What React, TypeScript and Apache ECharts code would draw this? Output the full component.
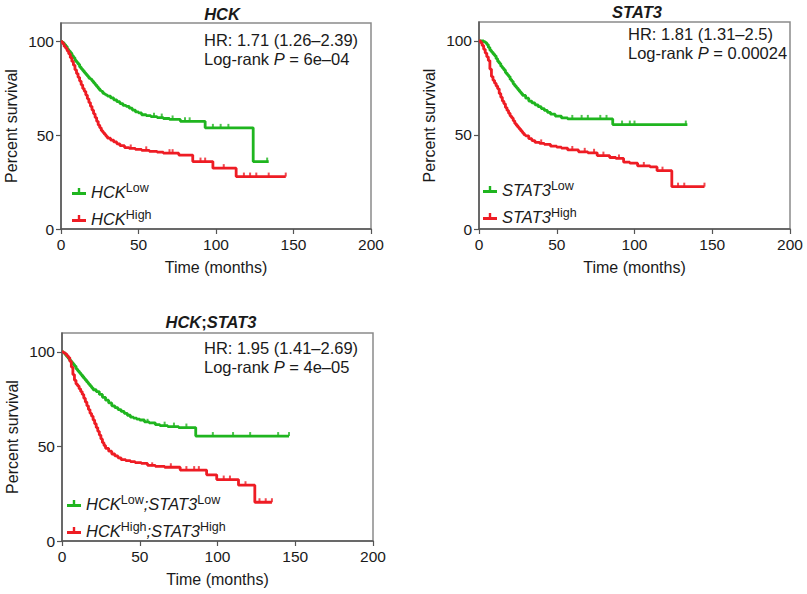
import React, { useEffect, useRef } from "react";
import * as echarts from "echarts";

// ---- Data (time in months, percent survival) ----
const hckLow: number[][] = [[0,100],[1,99.5],[2,98.5],[3,97.5],[4,96],[5,95],[6,94],[7,92.5],[8,91.5],[9,90],[10,89],[11,88],[12,86.5],[13,85.5],[14,84.5],[15,83.5],[16,82.5],[17,81.5],[18,80.5],[19,80],[20,79],[21,78],[22,77],[23,76],[24,75],[25,74],[26,73.5],[27,72.5],[28,72],[29,71.5],[30,71],[32,70],[34,69],[36,68],[38,67],[40,66],[42,65.5],[44,64.5],[46,63.5],[48,62.5],[50,62],[52,61],[55,60.5],[58,60],[62,59.5],[66,59],[70,58.5],[77,57.5],[93,54],[124,36],[134,36]];
const hckLowCensor: number[][] = [[60,60],[65,59.5],[72,58.5],[80,57.5],[83,57.5],[98,54],[103,54],[108,54],[133,36]];
const hckHigh: number[][] = [[0,100],[1,99],[2,97.5],[3,96.5],[4,95],[5,93.5],[6,91.5],[7,89.5],[8,87.5],[9,85],[10,83],[11,81],[12,79],[13,77],[14,75],[15,73.5],[16,71.5],[17,69.5],[18,67.5],[19,65.5],[20,63.5],[21,61.5],[22,59.5],[23,57.5],[24,55.5],[25,54],[26,52.5],[27,51.5],[28,50.5],[29,49.5],[30,48.5],[32,47.5],[34,46.5],[36,45.5],[38,44.5],[41,43.5],[44,43],[48,42.5],[52,42],[57,41.5],[62,41],[66,40.5],[76,39.5],[85,36],[98,32.5],[113,28],[145,28]];
const hckHighCensor: number[][] = [[45,43],[55,42],[70,40.5],[72,40.5],[90,36],[93,36],[105,32.5],[118,28],[122,28],[126,28],[134,28],[145,28]];

const statLow: number[][] = [[0,100],[2,100],[3,99.5],[4,99],[5,98],[6,96.5],[7,95],[8,94],[9,93],[10,92],[11,90.5],[12,89],[13,88],[14,86.5],[15,85.5],[16,84.5],[17,83],[18,82],[19,81],[20,79.5],[21,78.5],[22,77],[23,76],[24,75],[25,74],[26,73],[27,72],[28,71],[30,69.5],[32,68],[34,67],[36,66],[38,65],[40,64],[42,63],[44,62],[46,61],[49,60],[53,59],[57,58.5],[86,55.5],[134,55.5]];
const statLowCensor: number[][] = [[60,58.5],[66,58.5],[70,58.5],[78,58.5],[82,58.5],[92,55.5],[97,55.5],[100,55.5],[133,55.5]];
const statHigh: number[][] = [[0,100],[1,99],[2,97.5],[3,95.5],[4,93.5],[5,91.5],[6,89.5],[7,85],[8,81],[9,79],[10,77.5],[11,76],[12,74.5],[13,72],[14,70],[15,68],[16,66.5],[17,64.5],[18,63],[19,61.5],[20,60],[21,59],[22,57.5],[23,56],[24,55],[25,54],[26,53],[27,52],[28,51],[29,50],[30,49.5],[32,48],[34,47],[36,46],[39,45.5],[42,45],[46,44],[50,43.5],[53,43],[57,42],[64,41],[70,40.5],[76,39],[84,38],[88,37.5],[93,35.5],[97,35],[102,33.5],[110,33],[114.5,31],[124,22.5],[145,22.5]];
const statHighCensor: number[][] = [[40,45.5],[60,42],[68,41],[74,40.5],[80,39],[90,37.5],[106,33.5],[118,31],[128,22.5],[132,22.5],[145,22.5]];

const comboLow: number[][] = [[0,100],[1,99.5],[2,98.5],[3,97.5],[4,96.5],[5,95.5],[6,94.5],[7,93.5],[8,92.5],[9,91],[10,90],[11,89],[12,88],[13,87],[14,86],[15,85],[16,84],[17,83],[18,82],[19,81],[20,80],[22,79],[24,77.5],[26,76],[28,74.5],[30,73],[32,71.5],[34,70.5],[36,69.5],[38,68.5],[40,67.5],[42,66.5],[44,65.5],[46,65],[48,64.5],[50,64],[53,63],[56,62.5],[60,61.5],[63,61],[68,60.5],[75,60],[86,55.5],[146,55.5]];
const comboLowCensor: number[][] = [[55,62.5],[66,61],[72,60.5],[80,60],[97,55.5],[110,55.5],[121,55.5],[139,55.5],[146,55.5]];
const comboHigh: number[][] = [[0,100],[1,99.5],[2,99],[3,98],[4,97],[5,95],[6,92],[7,88],[8,85],[9,83],[10,82],[11,80.5],[12,79],[13,77.5],[14,75.5],[15,73.5],[16,71.5],[17,69.5],[18,67.5],[19,66],[20,64],[21,62],[22,60],[23,58],[24,56],[25,54],[26,52],[27,50.5],[28,49],[30,47.5],[32,46],[34,45],[36,44],[38,43],[41,42.5],[44,42],[47,41.5],[51,41],[55,40],[60,39.5],[66,39],[76,37.5],[93,35],[99.5,32.5],[113.5,29.5],[124,20.5],[135,20.5]];
const comboHighCensor: number[][] = [[58,39.5],[70,39],[80,37.5],[85,37.5],[88,37.5],[104,32.5],[108,32.5],[118,29.5],[127,20.5],[131,20.5],[135,20.5]];

const xTicks = [0, 50, 100, 150, 200];
const yTicks = [0, 50, 100];

const GREEN = "#1fb51f";
const RED = "#ee1c24";
const FONT = "Liberation Sans, Arial, sans-serif";
const TXT = "#1a1a1a";

const legendLabels: Record<string, string> = {
  "HCK Low": "{i|HCK}{s|Low}",
  "HCK High": "{i|HCK}{s|High}",
  "STAT3 Low": "{i|STAT3}{s|Low}",
  "STAT3 High": "{i|STAT3}{s|High}",
  "HCK;STAT3 Low": "{i|HCK}{s|Low}{i|;STAT3}{s|Low}",
  "HCK;STAT3 High": "{i|HCK}{s|High}{i|;STAT3}{s|High}",
};

const panels = [
  {
    title: "{t|HCK}", titleX: 222, titleY: 5,
    grid: { left: 61, top: 23, width: 310, height: 206 },
    low: hckLow, lowC: hckLowCensor, high: hckHigh, highC: hckHighCensor,
    lowName: "HCK Low", highName: "HCK High",
    hr: "HR: 1.71 (1.26–2.39)", p: "6e–04", textX: 204, textY: 40,
    legendX: 67, legendY: 176,
  },
  {
    title: "{t|STAT3}", titleX: 637, titleY: 3,
    grid: { left: 479, top: 22, width: 311, height: 207 },
    low: statLow, lowC: statLowCensor, high: statHigh, highC: statHighCensor,
    lowName: "STAT3 Low", highName: "STAT3 High",
    hr: "HR: 1.81 (1.31–2.5)", p: "0.00024", textX: 628, textY: 34,
    legendX: 478, legendY: 174,
  },
  {
    title: "{t|HCK}{u|;}{t|STAT3}", titleX: 211, titleY: 313,
    grid: { left: 62, top: 333, width: 311, height: 208 },
    low: comboLow, lowC: comboLowCensor, high: comboHigh, highC: comboHighCensor,
    lowName: "HCK;STAT3 Low", highName: "HCK;STAT3 High",
    hr: "HR: 1.95 (1.41–2.69)", p: "4e–05", textX: 204, textY: 348,
    legendX: 62, legendY: 488,
  },
];

const legendIcon = "path://M0,5h14v3h-14z M5.8,1h2.4v5h-2.4z";

export default function App() {
  const ref = useRef<HTMLDivElement>(null);
  useEffect(() => {
    if (!ref.current) return;
    const chart = echarts.init(ref.current, undefined, { renderer: "svg" });

    const titles = panels.map((p) => ({
      text: p.title,
      left: p.titleX,
      top: p.titleY,
      textAlign: "center",
      padding: 0,
      textStyle: {
        rich: {
          t: { fontFamily: FONT, fontSize: 16.5, fontWeight: "bold", fontStyle: "italic", color: TXT },
          u: { fontFamily: FONT, fontSize: 16.5, fontWeight: "bold", color: TXT },
        },
      },
    }));

    const grids = panels.map((p) => ({
      ...p.grid,
      show: true,
      borderColor: "#8a8a8a",
      borderWidth: 1.5,
      backgroundColor: "transparent",
    }));

    const axisCommon = {
      type: "value",
      splitLine: { show: false },
      axisLine: { show: true, lineStyle: { color: "#555", width: 1.5 } },
      axisTick: { show: true, length: 5, lineStyle: { color: "#555", width: 1.2 } },
      nameTextStyle: { fontFamily: FONT, fontSize: 16, color: TXT },
    };

    const xAxes = panels.map((_, i) => ({
      ...axisCommon,
      gridIndex: i,
      min: 0,
      max: 200,
      interval: 50,
      name: "Time (months)",
      nameLocation: "middle",
      nameGap: 30,
      axisTick: { ...axisCommon.axisTick, customValues: xTicks },
      axisLabel: { fontFamily: FONT, fontSize: 15.5, color: TXT, margin: 7, customValues: xTicks },
    }));

    const yAxes = panels.map((_, i) => ({
      ...axisCommon,
      gridIndex: i,
      min: 0,
      max: 110,
      interval: 50,
      name: "Percent survival",
      nameLocation: "middle",
      nameGap: 42,
      axisTick: { ...axisCommon.axisTick, customValues: yTicks },
      axisLabel: { fontFamily: FONT, fontSize: 15.5, color: TXT, margin: 7, customValues: yTicks },
    }));

    const series: any[] = [];
    panels.forEach((p, i) => {
      const groups = [
        { name: p.lowName, data: p.low, cens: p.lowC, color: GREEN },
        { name: p.highName, data: p.high, cens: p.highC, color: RED },
      ];
      groups.forEach((g) => {
        series.push({
          type: "line",
          name: g.name,
          xAxisIndex: i,
          yAxisIndex: i,
          data: g.data,
          step: "end",
          showSymbol: false,
          symbol: "none",
          color: g.color,
          lineStyle: { color: g.color, width: 2.8 },
          silent: true,
          z: 3,
        });
        series.push({
          type: "scatter",
          name: g.name + " censor",
          xAxisIndex: i,
          yAxisIndex: i,
          data: g.cens,
          symbol: "rect",
          symbolSize: [2, 4],
          symbolOffset: [0, -2],
          itemStyle: { color: g.color },
          silent: true,
          z: 3,
        });
      });
    });

    const legends = panels.map((p) => ({
      orient: "vertical",
      left: p.legendX,
      top: p.legendY,
      itemWidth: 14,
      itemHeight: 8,
      itemGap: 8,
      icon: legendIcon,
      selectedMode: false,
      data: [p.lowName, p.highName],
      formatter: (name: string) => legendLabels[name] || name,
      textStyle: {
        color: TXT,
        rich: {
          i: { fontFamily: FONT, fontSize: 16.5, fontStyle: "italic", color: TXT, lineHeight: 21 },
          s: { fontFamily: FONT, fontSize: 12.5, color: TXT, verticalAlign: "top", lineHeight: 13 },
        },
      },
    }));

    const graphics: any[] = [];
    panels.forEach((p) => {
      graphics.push({
        type: "text",
        x: p.textX,
        y: p.textY,
        style: {
          text: p.hr,
          font: `16.5px ${FONT}`,
          fill: TXT,
          verticalAlign: "middle",
        },
      });
      graphics.push({
        type: "text",
        x: p.textX,
        y: p.textY + 18.5,
        style: {
          text: `{n|Log-rank }{i|P}{n| = ${p.p}}`,
          font: `16.5px ${FONT}`,
          fill: TXT,
          verticalAlign: "middle",
          rich: {
            n: { fontFamily: FONT, fontSize: 16.5, fill: TXT },
            i: { fontFamily: FONT, fontSize: 16.5, fontStyle: "italic", fill: TXT },
          },
        },
      });
    });

    chart.setOption({
      animation: false,
      backgroundColor: "#ffffff",
      title: titles,
      grid: grids,
      xAxis: xAxes,
      yAxis: yAxes,
      legend: legends,
      series,
      graphic: graphics,
    });

    return () => chart.dispose();
  }, []);

  return (
    <div
      ref={ref}
      style={{ position: "fixed", left: 0, top: 0, width: 807, height: 594, background: "#fff" }}
    />
  );
}
